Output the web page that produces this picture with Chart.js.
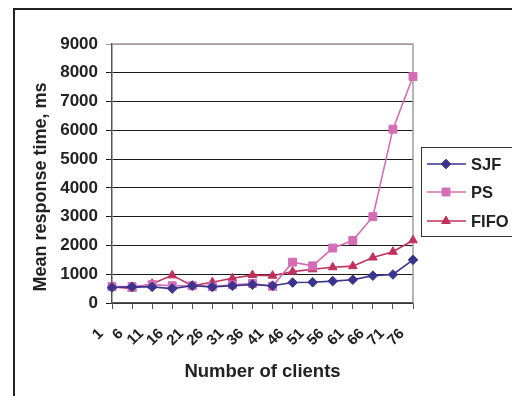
<!DOCTYPE html>
<html>
<head>
<meta charset="utf-8">
<script src="https://cdn.jsdelivr.net/npm/chart.js@4/dist/chart.umd.min.js"></script>
<style>
  html, body { margin: 0; padding: 0; background: #ffffff; }
  #wrap { width: 512px; height: 396px; position: relative; }
</style>
</head>
<body>
<div id="wrap"><canvas id="c" width="512" height="396"></canvas></div>
<script>
// Number of clients on the x axis
const clients = ['1', '6', '11', '16', '21', '26', '31', '36', '41', '46', '51', '56', '61', '66', '71', '76'];

// Mean response time (ms) per scheduling policy
const sjf  = [540, 560, 560, 500, 600, 560, 600, 640, 600, 710, 720, 760, 810, 950, 990, 1500];
const ps   = [570, 570, 640, 600, 600, 570, 630, 680, 580, 1420, 1290, 1910, 2170, 3000, 6040, 7870];
const fifo = [570, 500, 670, 960, 600, 720, 860, 970, 950, 1090, 1170, 1240, 1280, 1580, 1780, 2180];

const yTicks = [0, 1000, 2000, 3000, 4000, 5000, 6000, 7000, 8000, 9000];

const seriesNames = ['SJF', 'PS', 'FIFO'];
const seriesColors = ['#3b348f', '#d56db6', '#c2315c'];
const seriesPoints = ['rectRot', 'rect', 'triangle'];
const seriesRadius = [4.8, 5.6, 5];

const FONT = '"Liberation Sans", Arial, Helvetica, sans-serif';

const dataSets = [sjf, ps, fifo].map((vals, i) => ({
  label: seriesNames[i],
  data: vals,
  borderColor: seriesColors[i],
  backgroundColor: seriesColors[i],
  borderWidth: 1.6,
  pointStyle: seriesPoints[i],
  pointRadius: seriesRadius[i],
  pointHoverRadius: seriesRadius[i],
  pointBorderWidth: 1,
  pointBackgroundColor: seriesColors[i],
  pointBorderColor: seriesColors[i],
  tension: 0,
  clip: false
}));

// Outer frame, plot border, y title and the boxed legend
const decor = {
  id: 'decor',
  beforeDatasetsDraw(chart) {
    const { ctx, chartArea: a } = chart;
    ctx.save();
    ctx.strokeStyle = '#a39a9a';
    ctx.lineWidth = 1.5;
    ctx.beginPath();
    ctx.moveTo(a.left, a.top);
    ctx.lineTo(a.right, a.top);
    ctx.lineTo(a.right, a.bottom);
    ctx.stroke();
    ctx.restore();
  },
  afterDraw(chart) {
    const { ctx } = chart;
    ctx.save();
    // page frame
    ctx.strokeStyle = '#222222';
    ctx.lineWidth = 2;
    ctx.beginPath();
    ctx.moveTo(14, 400);
    ctx.lineTo(14, 9);
    ctx.lineTo(520, 9);
    ctx.stroke();

    // y axis title
    ctx.fillStyle = '#222222';
    ctx.font = 'bold 18px ' + FONT;
    ctx.textAlign = 'center';
    ctx.textBaseline = 'middle';
    ctx.translate(41, 187);
    ctx.rotate(-Math.PI / 2);
    ctx.fillText('Mean response time, ms', 0, 0);
    ctx.setTransform(1, 0, 0, 1, 0, 0);

    // legend
    const bx = 421.5, by = 147.5, bw = 100, bh = 89;
    ctx.fillStyle = '#ffffff';
    ctx.fillRect(bx, by, bw, bh);
    ctx.strokeStyle = '#333333';
    ctx.lineWidth = 1;
    ctx.strokeRect(bx, by, bw, bh);
    const rows = [164, 192, 221];
    chart.data.datasets.forEach((ds, i) => {
      const y = rows[i];
      ctx.strokeStyle = ds.borderColor;
      ctx.lineWidth = 1.5;
      ctx.beginPath();
      ctx.moveTo(427, y);
      ctx.lineTo(466, y);
      ctx.stroke();
      ctx.fillStyle = ds.borderColor;
      ctx.strokeStyle = ds.borderColor;
      ctx.lineWidth = 1;
      Chart.helpers.drawPoint(ctx, {
        pointStyle: ds.pointStyle,
        radius: ds.pointRadius,
        borderWidth: 1,
        rotation: 0
      }, 446, y);
      ctx.fillStyle = '#222222';
      ctx.font = 'bold 16.5px ' + FONT;
      ctx.textAlign = 'left';
      ctx.textBaseline = 'middle';
      ctx.fillText(ds.label, 471, y + 1);
    });
    ctx.restore();
  }
};

new Chart(document.getElementById('c'), {
  type: 'line',
  data: { labels: clients, datasets: dataSets },
  plugins: [decor],
  options: {
    responsive: false,
    animation: false,
    events: [],
    layout: { padding: { left: 0, right: 99, top: 44, bottom: 0 } },
    plugins: {
      legend: { display: false },
      tooltip: { enabled: false }
    },
    scales: {
      x: {
        type: 'category',
        offset: false,
        afterFit(scale) { scale.height = 93; },
        grid: {
          display: true,
          drawOnChartArea: false,
          drawTicks: true,
          tickLength: 6,
          color: '#555555',
          lineWidth: 1
        },
        border: { display: true, color: '#555555', width: 1.5 },
        ticks: {
          autoSkip: false,
          maxRotation: 45,
          minRotation: 45,
          padding: 16,
          labelOffset: -11,
          color: '#222222',
          font: { family: FONT, size: 15, weight: 'bold' }
        },
        title: {
          display: true,
          text: 'Number of clients',
          color: '#222222',
          font: { family: FONT, size: 18.5, weight: 'bold' },
          padding: { top: 0, bottom: 13 }
        }
      },
      y: {
        min: 0,
        max: 9000,
        afterFit(scale) { scale.width = 112; },
        afterBuildTicks(scale) { scale.ticks = yTicks.map(v => ({ value: v })); },
        grid: {
          drawTicks: true,
          tickLength: 6,
          color: (c) => (c.tick && c.tick.value === 9000 ? '#a39a9a' : '#1a1a1a'),
          lineWidth: 1
        },
        border: { display: true, color: '#555555', width: 1.5 },
        ticks: {
          padding: 8,
          color: '#222222',
          font: { family: FONT, size: 17, weight: 'bold' },
          callback: (v) => String(v)
        }
      }
    }
  }
});
</script>
</body>
</html>
